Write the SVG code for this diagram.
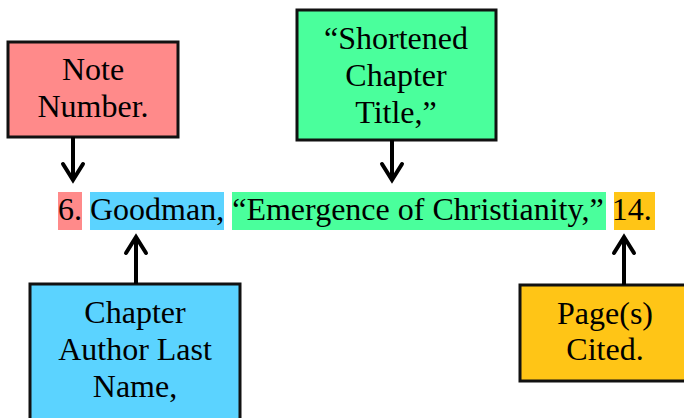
<svg xmlns="http://www.w3.org/2000/svg" width="684" height="418" viewBox="0 0 684 418">
<style>
text{font-family:"Liberation Serif","Times New Roman",serif;font-size:32px;fill:#000}
.box{stroke:#111;stroke-width:3}
.lbl{text-anchor:middle}
.conn line{stroke:#000;stroke-width:4}
.conn path{fill:none;stroke:#000;stroke-width:4;stroke-linecap:round;stroke-linejoin:miter}
</style>
<rect width="684" height="418" fill="#fff"/>
<g id="citation">
<rect x="58" y="192" width="24" height="38" fill="#FF8A8A"/>
<rect x="90" y="192" width="134" height="38" fill="#5BD3FF"/>
<rect x="232" y="192" width="374" height="38" fill="#4AFF9C"/>
<rect x="614" y="192" width="41" height="38" fill="#FFC516"/>
<text x="58" y="220" xml:space="preserve">6. Goodman, “Emergence of Christianity,” 14.</text>
</g>
<g id="note">
<rect class="box" x="8" y="42" width="170" height="95" fill="#FF8A8A"/>
<text class="lbl" x="93" y="80">Note</text>
<text class="lbl" x="93" y="117">Number.</text>
</g>
<g id="title">
<rect class="box" x="297" y="10" width="199" height="130" fill="#4AFF9C"/>
<text class="lbl" x="396" y="49">“Shortened</text>
<text class="lbl" x="396" y="86">Chapter</text>
<text class="lbl" x="396" y="123">Title,”</text>
</g>
<g id="author">
<rect class="box" x="30" y="284" width="210" height="150" fill="#5BD3FF"/>
<text class="lbl" x="135" y="323">Chapter</text>
<text class="lbl" x="135" y="360">Author Last</text>
<text class="lbl" x="135" y="397">Name,</text>
</g>
<g id="pages">
<rect class="box" x="520" y="285" width="172" height="96" fill="#FFC516"/>
<text class="lbl" x="605" y="324">Page(s)</text>
<text class="lbl" x="605" y="360">Cited.</text>
</g>
<g class="conn">
<line x1="73" y1="137" x2="73" y2="180"/>
<path d="M63 164 L73 180 L83 164"/>
<line x1="392" y1="140" x2="392" y2="180"/>
<path d="M382 164 L392 180 L402 164"/>
<line x1="136" y1="284" x2="136" y2="237"/>
<path d="M126 253 L136 237 L146 253"/>
<line x1="624" y1="285" x2="624" y2="237"/>
<path d="M614 253 L624 237 L634 253"/>
</g>
</svg>
